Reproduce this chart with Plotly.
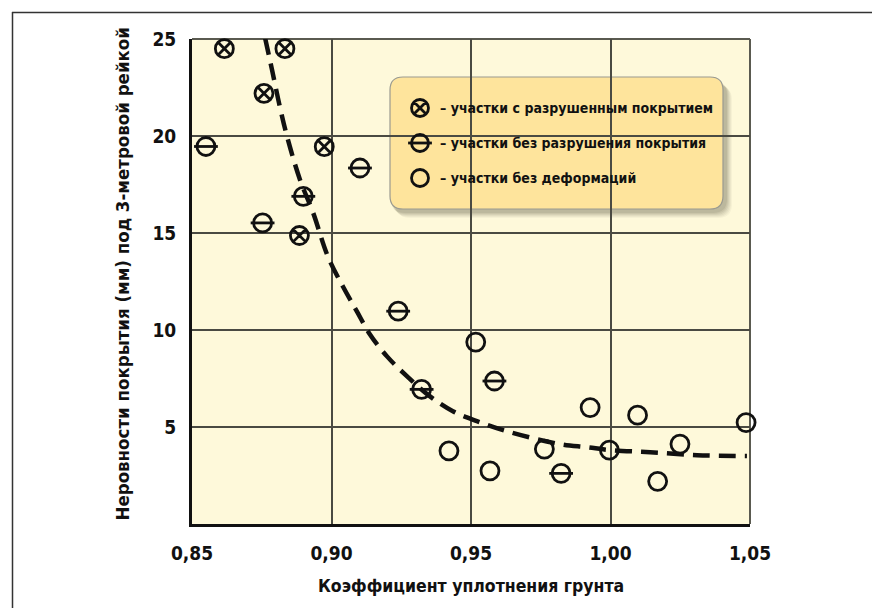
import plotly.graph_objects as go

# Коэффициент уплотнения / неровности (мм)
destroyed_x = [0.8616, 0.8833, 0.8758, 0.8974, 0.8885]
destroyed_y = [24.5, 24.5, 22.2, 19.45, 14.87]

intact_x = [0.8550, 0.9102, 0.8899, 0.8753, 0.9239, 0.9323, 0.9584, 0.9823]
intact_y = [19.46, 18.35, 16.89, 15.52, 10.97, 6.94, 7.37, 2.61]

nodef_x = [0.9517, 0.9421, 0.9568, 0.9763, 0.9996, 0.9927, 1.0097, 1.0169, 1.0249, 1.0486]
nodef_y = [9.38, 3.77, 2.74, 3.86, 3.81, 6.00, 5.61, 2.20, 4.12, 5.23]

# trend curve samples
trend_x = [0.8762, 0.8787, 0.8815, 0.8841, 0.8887, 0.8934, 0.8987, 0.9041, 0.9091,
           0.9138, 0.9199, 0.9271, 0.9353, 0.9435, 0.9521, 0.9640, 0.9819, 0.9916,
           0.9998, 1.0142, 1.0310, 1.0489]
trend_y = [25.05, 23.4, 21.5, 19.96, 17.75, 16.05, 13.79, 12.24, 10.96,
           9.77, 8.64, 7.61, 6.58, 5.81, 5.30, 4.73, 4.12, 3.96,
           3.81, 3.70, 3.55, 3.50]

x_ticks = [0.85, 0.90, 0.95, 1.00, 1.05]
y_ticks = [5, 10, 15, 20, 25]

legend_labels = ["– участки с разрушенным покрытием",
                 "– участки без разрушения покрытия",
                 "– участки без деформаций"]

FONT = "DejaVu Sans Condensed, Roboto, Noto Sans, sans-serif"
INK = "#111111"
W, H = 872, 608
L, R, T, B = 192, 750, 39, 524

fig = go.Figure()

fig.add_trace(go.Scatter(x=trend_x, y=trend_y, mode="lines",
                         line=dict(color=INK, width=4.5, dash="17px,9px", shape="spline"),
                         hoverinfo="skip", showlegend=False, cliponaxis=False))

mk = dict(size=18, color=INK, line=dict(width=2.8, color=INK))
fig.add_trace(go.Scatter(x=destroyed_x, y=destroyed_y, mode="markers",
                         marker=dict(symbol="circle-x-open", **mk),
                         showlegend=False, cliponaxis=False))
fig.add_trace(go.Scatter(x=intact_x, y=intact_y, mode="markers",
                         marker=dict(symbol="circle-open", **mk),
                         showlegend=False, cliponaxis=False))
fig.add_trace(go.Scatter(x=intact_x, y=intact_y, mode="markers",
                         marker=dict(symbol="line-ew-open", size=17, color=INK,
                                     line=dict(width=2.8, color=INK)),
                         showlegend=False, cliponaxis=False))
fig.add_trace(go.Scatter(x=nodef_x, y=nodef_y, mode="markers",
                         marker=dict(symbol="circle-open", **mk),
                         showlegend=False, cliponaxis=False))


# pixel position on the page -> paper fraction of the plot area
def px_x(p):
    return (p - L) / (R - L)


def px_y(p):
    return (B - p) / (B - T)


def rounded_rect(x0, y0, x1, y1, r):
    def P(x, y):
        return f"{px_x(x):.5f},{px_y(y):.5f}"
    return (f"M {P(x0 + r, y0)} L {P(x1 - r, y0)} Q {P(x1, y0)} {P(x1, y0 + r)} "
            f"L {P(x1, y1 - r)} Q {P(x1, y1)} {P(x1 - r, y1)} "
            f"L {P(x0 + r, y1)} Q {P(x0, y1)} {P(x0, y1 - r)} "
            f"L {P(x0, y0 + r)} Q {P(x0, y0)} {P(x0 + r, y0)} Z")


shapes = []
# outer frame lines
shapes.append(dict(type="line", xref="paper", yref="paper", x0=px_x(12), x1=px_x(W),
                   y0=px_y(12.5), y1=px_y(12.5), line=dict(color="#333333", width=1.5)))
shapes.append(dict(type="line", xref="paper", yref="paper", x0=px_x(12.5), x1=px_x(12.5),
                   y0=px_y(12), y1=px_y(H), line=dict(color="#333333", width=1.5)))

# plot frame: thin top/right, heavy left/bottom
shapes.append(dict(type="line", xref="paper", yref="paper", x0=0, x1=1,
                   y0=1, y1=1, line=dict(color="#5a5a50", width=2), layer="below"))
shapes.append(dict(type="line", xref="paper", yref="paper", x0=1, x1=1,
                   y0=0, y1=1, line=dict(color="#5a5a50", width=2), layer="below"))

# legend panel with soft shadow, kept under the traces
lx0, ly0, lx1, ly1 = 390, 77, 723, 209
for i, op in enumerate([0.04, 0.05, 0.06, 0.07, 0.08, 0.09]):
    off = 9 - i
    shapes.append(dict(type="path", xref="paper", yref="paper", layer="between",
                       path=rounded_rect(lx0 + off - 3, ly0 + off, lx1 + off, ly1 + off, 14),
                       fillcolor=f"rgba(60,60,40,{op})", line=dict(width=0)))
shapes.append(dict(type="path", xref="paper", yref="paper", layer="between",
                   path=rounded_rect(lx0, ly0, lx1, ly1, 13),
                   fillcolor="#FEE49C", line=dict(color="#9a9a90", width=1.2)))

# legend rows
sym_x = 420
rows = [108, 143, 178]
annotations = []
for yy, lab in zip(rows, legend_labels):
    annotations.append(dict(xref="paper", yref="paper", x=px_x(438), y=px_y(yy),
                            text=f"<b>{lab}</b>", showarrow=False, xanchor="left",
                            yanchor="middle", font=dict(family=FONT, size=14, color=INK)))

annotations.append(dict(xref="paper", yref="paper", x=px_x((L + R) / 2), y=px_y(586),
                        text="<b>Коэффициент уплотнения грунта</b>", showarrow=False,
                        xanchor="center", yanchor="middle",
                        font=dict(family=FONT, size=17.5, color=INK)))
annotations.append(dict(xref="paper", yref="paper", x=px_x(122), y=px_y((T + B) / 2 - 7),
                        text="<b>Неровности покрытия (мм) под 3-метровой рейкой</b>",
                        showarrow=False, textangle=-90, xanchor="center", yanchor="middle",
                        font=dict(family=FONT, size=18.5, color=INK)))

# legend markers drawn on an overlay axis measured in pixels
leg_sym = ["circle-x-open", "circle-open", "circle-open"]
for yy, s in zip(rows, leg_sym):
    fig.add_trace(go.Scatter(x=[sym_x], y=[yy], xaxis="x2", yaxis="y2", mode="markers",
                             marker=dict(symbol=s, size=17, color=INK,
                                         line=dict(width=2.8, color=INK)),
                             showlegend=False, hoverinfo="skip", cliponaxis=False))
fig.add_trace(go.Scatter(x=[sym_x], y=[rows[1]], xaxis="x2", yaxis="y2", mode="markers",
                         marker=dict(symbol="line-ew-open", size=17, color=INK,
                                     line=dict(width=2.8, color=INK)),
                         showlegend=False, hoverinfo="skip", cliponaxis=False))

fig.update_layout(
    width=W, height=H,
    margin=dict(l=L, r=W - R, t=T, b=H - B, pad=0),
    paper_bgcolor="white",
    plot_bgcolor="#FEF9DA",
    separators=", ",
    font=dict(family=FONT, color=INK),
    shapes=shapes,
    annotations=annotations,
    showlegend=False,
    xaxis=dict(range=[0.85, 1.05], tickvals=x_ticks, tickformat=".2f",
               showgrid=True, gridcolor="#4a4a42", gridwidth=1.5,
               showline=True, linecolor=INK, linewidth=3, mirror=False,
               ticks="", zeroline=False,
               tickfont=dict(family=FONT, size=19, color=INK, weight="bold"),
               ticklabelstandoff=10),
    yaxis=dict(range=[0, 25], tickvals=y_ticks, showgrid=True, gridcolor="#4a4a42",
               gridwidth=1.5, showline=True, linecolor=INK, linewidth=3,
               ticks="", zeroline=False,
               tickfont=dict(family=FONT, size=19, color=INK, weight="bold"),
               ticklabelstandoff=9),
    xaxis2=dict(range=[L, R], overlaying="x", visible=False, fixedrange=True),
    yaxis2=dict(range=[B, T], overlaying="y", visible=False, fixedrange=True),
)

fig.write_html("out.html")
